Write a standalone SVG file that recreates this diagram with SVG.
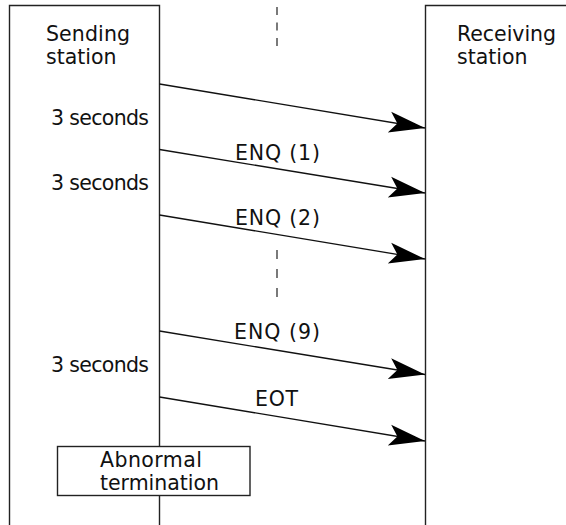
<svg xmlns="http://www.w3.org/2000/svg" width="566" height="525" viewBox="0 0 566 525">
<style>
text{font-family:"DejaVu Sans","Liberation Sans",sans-serif;font-size:20.5px;fill:#111}
.box{fill:none;stroke:#222;stroke-width:1.4}
.msg{stroke:#111;stroke-width:1.3;fill:none;marker-end:url(#ah)}
.dash{stroke:#333;stroke-width:1.3;stroke-dasharray:8 7.5}
</style>
<defs>
<marker id="ah" markerUnits="userSpaceOnUse" viewBox="-37 -12 38 24" refX="0" refY="0" markerWidth="38" markerHeight="24" orient="auto">
<path d="M0,0 L-36,-10.5 L-28,0 L-36,10.5 Z" fill="#000"/>
</marker>
</defs>
<rect width="566" height="525" fill="#fff"/>
<g id="sending">
<path class="box" d="M9.5,525 V5.5 H159.5 V525"/>
<text x="46" y="41.2" textLength="84">Sending</text>
<text x="46" y="64">station</text>
</g>
<g id="receiving">
<path class="box" d="M425.5,525 V5.5 H566"/>
<text x="457" y="41.2" textLength="99">Receiving</text>
<text x="457" y="64">station</text>
</g>
<g id="dashes">
<line class="dash" x1="277" y1="7" x2="277" y2="47"/>
<line class="dash" x1="277" y1="250" x2="277" y2="303" style="stroke-dasharray:9 10"/>
</g>
<g id="timers">
<text x="51" y="125" textLength="98">3 seconds</text>
<text x="51" y="190" textLength="98">3 seconds</text>
<text x="51" y="371.7" textLength="98">3 seconds</text>
</g>
<g id="connectors">
<line class="msg" x1="159.5" y1="84" x2="425" y2="128"/>
<line class="msg" x1="159.5" y1="149.5" x2="425" y2="193"/>
<line class="msg" x1="159.5" y1="215" x2="425" y2="259"/>
<line class="msg" x1="159.5" y1="331" x2="425" y2="374.5"/>
<line class="msg" x1="159.5" y1="397" x2="425" y2="441"/>
</g>
<g id="labels">
<text x="235" y="160" textLength="85">ENQ (1)</text>
<text x="235" y="225" textLength="85">ENQ (2)</text>
<text x="234" y="339.3" textLength="86">ENQ (9)</text>
<text x="255" y="406" textLength="43">EOT</text>
</g>
<g id="abnormal">
<rect x="57.5" y="446.5" width="192.5" height="49" fill="#fff" stroke="#222" stroke-width="1.4"/>
<text x="100" y="466.7" textLength="102">Abnormal</text>
<text x="100" y="489.5" textLength="119">termination</text>
</g>
</svg>
